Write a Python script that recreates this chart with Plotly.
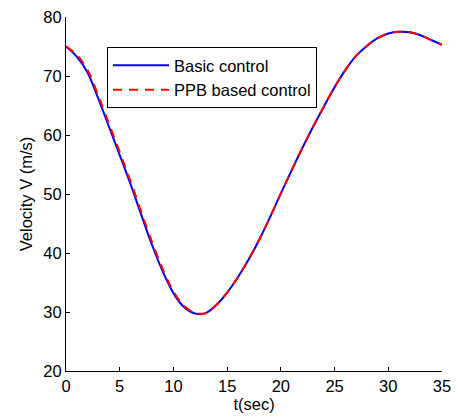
import plotly.graph_objects as go

t = [0, 1, 2, 3, 4, 5, 6, 7, 8, 9, 10, 11, 12, 13, 14, 15, 16, 17, 18, 19, 20,
     21, 22, 23, 24, 25, 26, 27, 28, 29, 30, 31, 32, 33, 34, 35]
v_basic = [75.0, 73.3, 70.6, 66.2, 61.4, 56.6, 51.7, 46.5, 41.4, 36.9, 33.2, 30.8, 29.75,
           29.8, 31.2, 33.3, 35.9, 38.9, 42.3, 46.1, 50.1, 54.0, 57.8, 61.4, 64.8, 68.1,
           71.0, 73.4, 75.1, 76.4, 77.2, 77.5, 77.4, 76.9, 76.1, 75.3]
v_ppb = [75.0, 73.6, 71.0, 66.7, 61.9, 57.1, 52.2, 47.0, 41.9, 37.3, 33.5, 31.0, 29.85,
         29.8, 31.2, 33.3, 35.9, 38.9, 42.3, 46.1, 50.1, 54.0, 57.8, 61.4, 64.8, 68.1,
         71.0, 73.4, 75.1, 76.4, 77.2, 77.5, 77.4, 76.9, 76.1, 75.3]

x_ticks = [0, 5, 10, 15, 20, 25, 30, 35]
y_ticks = [20, 30, 40, 50, 60, 70, 80]

fig = go.Figure()
fig.add_trace(go.Scatter(x=t, y=v_basic, mode="lines", name="Basic control",
                         line=dict(color="#0000ff", width=2, shape="spline")))
fig.add_trace(go.Scatter(x=t, y=v_ppb, mode="lines", name="PPB based control",
                         line=dict(color="#ff0000", width=2, dash="9px,7px", shape="spline")))

fam = "Liberation Sans, Arial, sans-serif"
font = dict(family=fam, size=16.5, color="black")
fig.update_layout(
    width=451, height=411,
    margin=dict(l=58, r=17, t=9, b=48),
    paper_bgcolor="white", plot_bgcolor="white",
    font=font,
    showlegend=True,
    legend=dict(x=0.109, y=0.915, xanchor="left", yanchor="top",
                bordercolor="black", borderwidth=1, bgcolor="white", itemwidth=56,
                font=dict(family=fam, size=16.5, color="black")),
    xaxis=dict(range=[0, 35], tickvals=x_ticks, ticks="inside", ticklen=4, tickcolor="black",
               showline=True, linecolor="black", linewidth=1, showgrid=False, zeroline=False,
               automargin=False, tickfont=font, ticklabeloverflow="allow",
               title=dict(text="t(sec)", standoff=0, font=font), mirror=False),
    yaxis=dict(range=[20, 80], tickvals=y_ticks, ticks="inside", ticklen=4, tickcolor="black",
               showline=True, linecolor="black", linewidth=1, showgrid=False, zeroline=False,
               automargin=False, tickfont=font, ticklabeloverflow="allow",
               title=dict(text="Velocity V (m/s)", standoff=6, font=font), mirror=False),
)
fig.write_html("out.html")
